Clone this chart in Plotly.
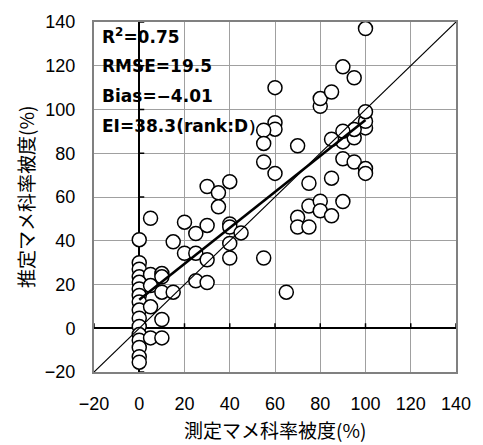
import numpy as np
import plotly.graph_objects as go

# Measured vs. estimated legume cover (%)
measured = [
    0, 0, 0, 0, 0, 0, 0, 0, 0, 0, 0, 0, 0, 0, 0, 0,
    5, 5, 5, 5, 5,
    10, 10, 10, 10, 10,
    15, 15,
    20, 20, 25, 25, 25, 30, 30, 30, 30, 35, 35, 40, 40, 40, 45, 40, 40,
    55, 65,
    60, 60, 60, 55, 55, 55, 60, 70,
    70, 70, 75, 75, 75, 80, 80, 85, 90, 85,
    90, 95, 100, 100, 90, 95, 100, 100, 95, 90, 85, 100,
    80, 80, 85, 95, 90, 100,
]
estimated = [
    40.5, 30, 27, 23.5, 21, 18, 15, 12, 8.3, 4.6, 0.8, -2.9, -5.5, -8.8, -13, -15.5,
    50.3, 24.6, 19.5, 9.8, -4.4,
    25, 23.5, 16.5, 4, -4.4,
    16.5, 39.5,
    48.5, 34.3, 43.3, 34.3, 21.7, 20.9, 31.3, 47, 64.8, 61.9, 55.5, 67, 47.7, 46.3, 43.6, 38.8, 32.1,
    32.1, 16.5,
    110, 94, 91, 90.5, 84.5, 76, 70.8, 83.4,
    50.7, 46.3, 46.3, 55.9, 66.3, 58.1, 53.7, 51.4, 57.9, 68.6,
    77.5, 76, 73, 70.8, 85.2, 87.1, 91.6, 94.6, 90.9, 90.1, 86.4, 99,
    101.5, 105, 108, 114.5, 119.5, 137,
]

axis_range = [-20, 140]
tick_values = [-20, 0, 20, 40, 60, 80, 100, 120, 140]
stats_lines = [
    "R<sup>2</sup>=0.75",
    "RMSE=19.5",
    "Bias=−4.01",
    "EI=38.3(rank:D）",
]

x_arr = np.array(measured, dtype=float)
y_arr = np.array(estimated, dtype=float)
slope, intercept = np.polyfit(x_arr, y_arr, 1)
fit_x = np.array([x_arr.min(), x_arr.max()])
fit_y = intercept + slope * fit_x

fig = go.Figure()

fig.add_trace(go.Scatter(
    x=measured, y=estimated, mode="markers",
    marker=dict(size=14, color="white", line=dict(color="black", width=1.5)),
    showlegend=False, hoverinfo="skip",
))

# 1:1 line across the full axis range
fig.add_trace(go.Scatter(
    x=axis_range, y=axis_range, mode="lines",
    line=dict(color="black", width=1.2), showlegend=False, hoverinfo="skip",
))

# Linear regression line over the measured range
fig.add_trace(go.Scatter(
    x=fit_x, y=fit_y, mode="lines",
    line=dict(color="black", width=2.6), showlegend=False, hoverinfo="skip",
))

tick_font = dict(family="Liberation Sans, Arial, sans-serif", size=18, color="black")
axis_common = dict(
    range=axis_range, tickvals=tick_values, ticktext=[str(v).replace("-", "−") for v in tick_values],
    showgrid=True, gridcolor="#a0a0a0", gridwidth=1,
    zeroline=True, zerolinecolor="black", zerolinewidth=1.5,
    showline=True, linecolor="#808080", linewidth=2, mirror=True,
    ticks="", tickfont=tick_font,
)
fig.update_xaxes(**axis_common, ticklabelstandoff=14)
fig.update_yaxes(**axis_common, ticklabelstandoff=13)

# Small tick marks on the axes crossing at zero
shapes = []
for v in tick_values:
    shapes.append(dict(type="line", xref="x", yref="y", layer="between",
                       ysizemode="pixel", yanchor=0, y0=0, y1=5, x0=v, x1=v,
                       line=dict(color="black", width=1.5)))
    shapes.append(dict(type="line", xref="x", yref="y", layer="between",
                       xsizemode="pixel", xanchor=0, x0=0, x1=5, y0=v, y1=v,
                       line=dict(color="black", width=1.5)))

annotations = []
for i, txt in enumerate(stats_lines):
    annotations.append(dict(
        text=txt, xref="x", yref="paper", x=-17.3, y=1, xanchor="left", yanchor="middle",
        yshift=-13.5 - 30 * i, showarrow=False,
        font=dict(family="DejaVu Sans", size=17, color="black", weight="bold"),
    ))

title_font = dict(family="Noto Sans CJK JP", size=19, color="black")
annotations.append(dict(
    text="測定マメ科率被度(%)", xref="paper", yref="paper", x=0.5, y=0,
    xanchor="center", yanchor="middle", yshift=-57, showarrow=False, font=title_font,
))
annotations.append(dict(
    text="推定マメ科率被度(%)", xref="paper", yref="paper", x=0, y=0.5,
    xanchor="center", yanchor="middle", xshift=-69, textangle=-90, showarrow=False,
    font=title_font,
))

fig.update_layout(
    width=483, height=445,
    margin=dict(l=94, r=21, t=13, b=73),
    paper_bgcolor="white", plot_bgcolor="white",
    shapes=shapes, annotations=annotations,
)

fig.write_html("out.html")
